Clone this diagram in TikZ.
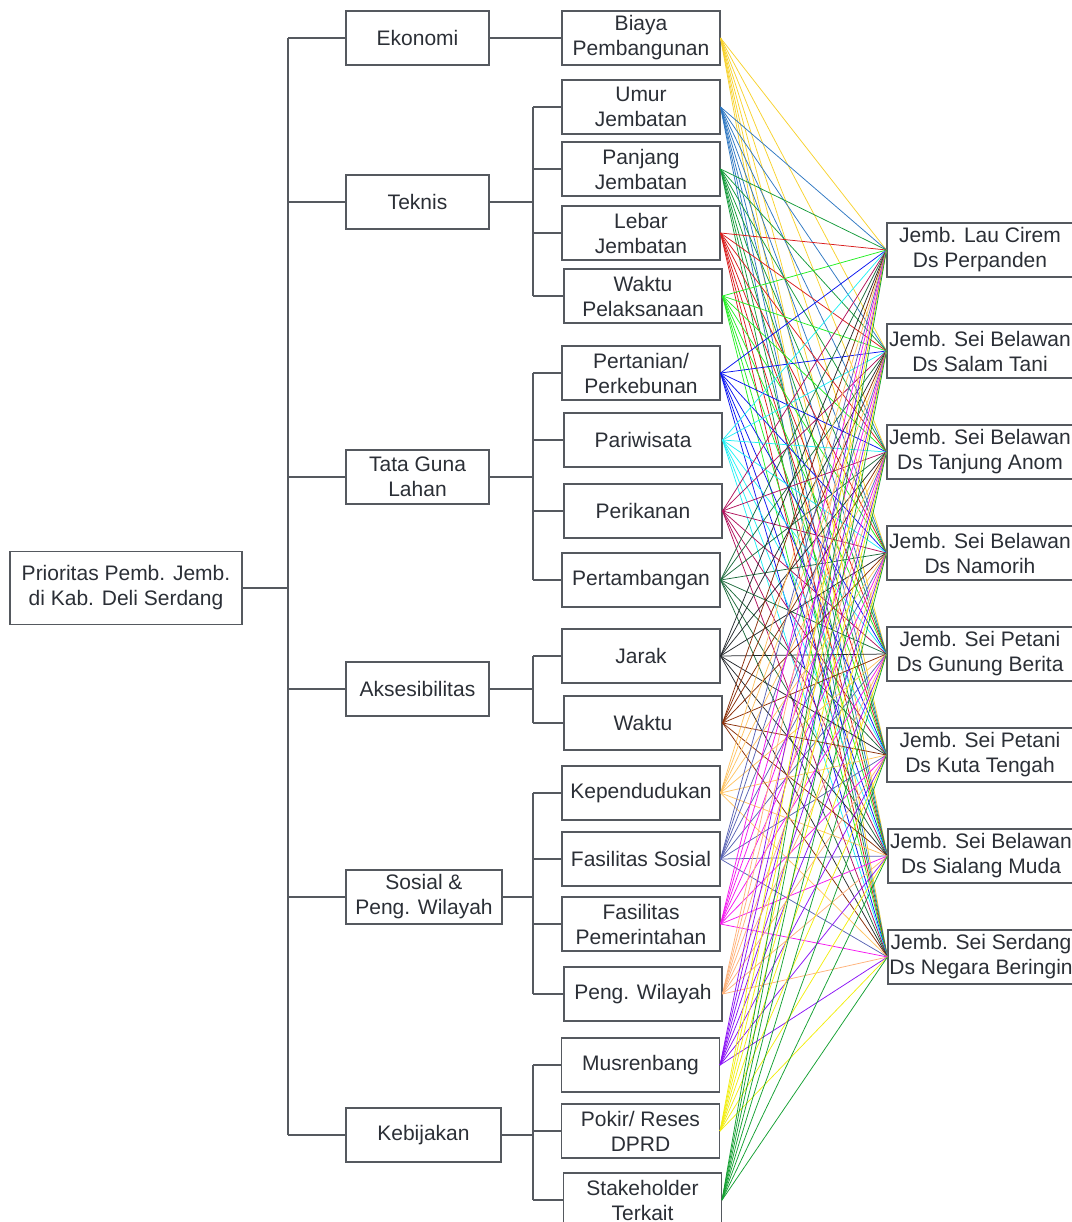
\documentclass[tikz,border=0pt]{standalone}
\usepackage{fontspec}
\setmainfont{Liberation Sans}
\usepackage{xcolor}
\usepackage{tikz}
\definecolor{boxgray}{HTML}{55595F}
\definecolor{txtgray}{HTML}{2B2F36}
\definecolor{cbiaya}{HTML}{F7D22E}
\definecolor{cumur}{HTML}{2F78C2}
\definecolor{cpanjang}{HTML}{149A3A}
\definecolor{clebar}{HTML}{D81C1C}
\definecolor{cwaktup}{HTML}{22EE22}
\definecolor{ctani}{HTML}{0A14F0}
\definecolor{cwisata}{HTML}{22F0F5}
\definecolor{cikan}{HTML}{B0105C}
\definecolor{ctambang}{HTML}{1E6B3C}
\definecolor{cjarak}{HTML}{262A2E}
\definecolor{cwaktu}{HTML}{8A2E08}
\definecolor{cduduk}{HTML}{FFC463}
\definecolor{cfsos}{HTML}{5A64B4}
\definecolor{cfpem}{HTML}{F516F0}
\definecolor{cwil}{HTML}{FFB27A}
\definecolor{cmus}{HTML}{8A12F5}
\definecolor{cpokir}{HTML}{F2EE10}
\definecolor{cstake}{HTML}{14A032}

\begin{document}
\begin{tikzpicture}[x=1pt,y=-1pt,
  box/.style={draw=boxgray,line width=1.1pt,text=txtgray,align=center,inner sep=0pt,
    font=\fontsize{21}{25}\selectfont},
  kbox/.style={box,minimum width=143,minimum height=54},
  sbox/.style={box,minimum width=158,minimum height=54},
  abox/.style={box,minimum width=186,minimum height=54},
  tree/.style={draw=boxgray,line width=1.2pt},
  fan/.style={line width=0.75pt}]
  \useasboundingbox (0,0) rectangle (1071,1222);

  % goal
  \node[box,minimum width=232,minimum height=73] (root) at (126,588)
    {Prioritas Pemb. Jemb.\\di Kab. Deli Serdang};

  % criteria
  \node[kbox] (k1) at (417.5,38) {Ekonomi};
  \node[kbox] (k2) at (417.5,202) {Teknis};
  \node[kbox] (k3) at (417.5,477) {Tata Guna\\Lahan};
  \node[kbox] (k4) at (417.5,689) {Aksesibilitas};
  \node[kbox,minimum width=156] (k5) at (424,897) {Sosial \&\\Peng. Wilayah};
  \node[kbox,minimum width=155] (k6) at (423.5,1135) {Kebijakan};

  % sub criteria
  \node[sbox] (s1) at (641,38) {Biaya\\Pembangunan};
  \node[sbox] (s2) at (641,107) {Umur\\Jembatan};
  \node[sbox] (s3) at (641,169) {Panjang\\Jembatan};
  \node[sbox] (s4) at (641,233) {Lebar\\Jembatan};
  \node[sbox] (s5) at (643,296) {Waktu\\Pelaksanaan};
  \node[sbox] (s6) at (641,373) {Pertanian/\\Perkebunan};
  \node[sbox] (s7) at (643,440) {Pariwisata};
  \node[sbox] (s8) at (643,511) {Perikanan};
  \node[sbox] (s9) at (641,580) {Pertambangan};
  \node[sbox] (s10) at (641,656) {Jarak};
  \node[sbox] (s11) at (643,723) {Waktu};
  \node[sbox] (s12) at (641,793) {Kependudukan};
  \node[sbox] (s13) at (641,859) {Fasilitas Sosial};
  \node[sbox] (s14) at (641,924) {Fasilitas\\Pemerintahan};
  \node[sbox] (s15) at (643,994) {Peng. Wilayah};
  \node[sbox] (s16) at (640.5,1065) {Musrenbang};
  \node[sbox] (s17) at (640.5,1131) {Pokir/ Reses\\DPRD};
  \node[sbox] (s18) at (642.5,1200) {Stakeholder\\Terkait};

  % alternatives
  \node[abox] (a1) at (980,250) {Jemb. Lau Cirem\\Ds Perpanden};
  \node[abox] (a2) at (980,351) {Jemb. Sei Belawan\\Ds Salam Tani};
  \node[abox] (a3) at (980,452) {Jemb. Sei Belawan\\Ds Tanjung Anom};
  \node[abox] (a4) at (980,553) {Jemb. Sei Belawan\\Ds Namorih};
  \node[abox] (a5) at (980,654) {Jemb. Sei Petani\\Ds Gunung Berita};
  \node[abox] (a6) at (980,755) {Jemb. Sei Petani\\Ds Kuta Tengah};
  \node[abox] (a7) at (981,856) {Jemb. Sei Belawan\\Ds Sialang Muda};
  \node[abox] (a8) at (981,957) {Jemb. Sei Serdang\\Ds Negara Beringin};

  % tree lines
  \coordinate (t) at (288,0);
  \coordinate (b) at (533,0);
  \draw[tree] (root.east) -- (root.east -| t);
  \draw[tree] (k1.west -| t) -- (k6.west -| t);
  \foreach \k in {k1,k2,k3,k4,k5,k6}
    \draw[tree] (\k.west) -- (\k.west -| t);
  \draw[tree] (k1) -- (s1);
  \foreach \k/\p/\q in {k2/s2/s5,k3/s6/s9,k4/s10/s11,k5/s12/s15,k6/s16/s18} {
    \draw[tree] (\k.east) -- (\k.east -| b);
    \draw[tree] (\p.west -| b) -- (\q.west -| b);
  }
  \foreach \s in {s2,s3,s4,s5,s6,s7,s8,s9,s10,s11,s12,s13,s14,s15,s16,s17,s18}
    \draw[tree] (\s.west) -- (\s.west -| b);

  % pairwise links
  \foreach \s/\c in {s1/cbiaya,s2/cumur,s3/cpanjang,s4/clebar,s5/cwaktup,s6/ctani,
      s7/cwisata,s8/cikan,s9/ctambang,s10/cjarak,s11/cwaktu,s12/cduduk,s13/cfsos,
      s14/cfpem,s15/cwil,s16/cmus,s17/cpokir,s18/cstake}
    \foreach \a in {1,...,8}
      \draw[fan,\c] (\s.east) -- (a\a.west);
\end{tikzpicture}
\end{document}
